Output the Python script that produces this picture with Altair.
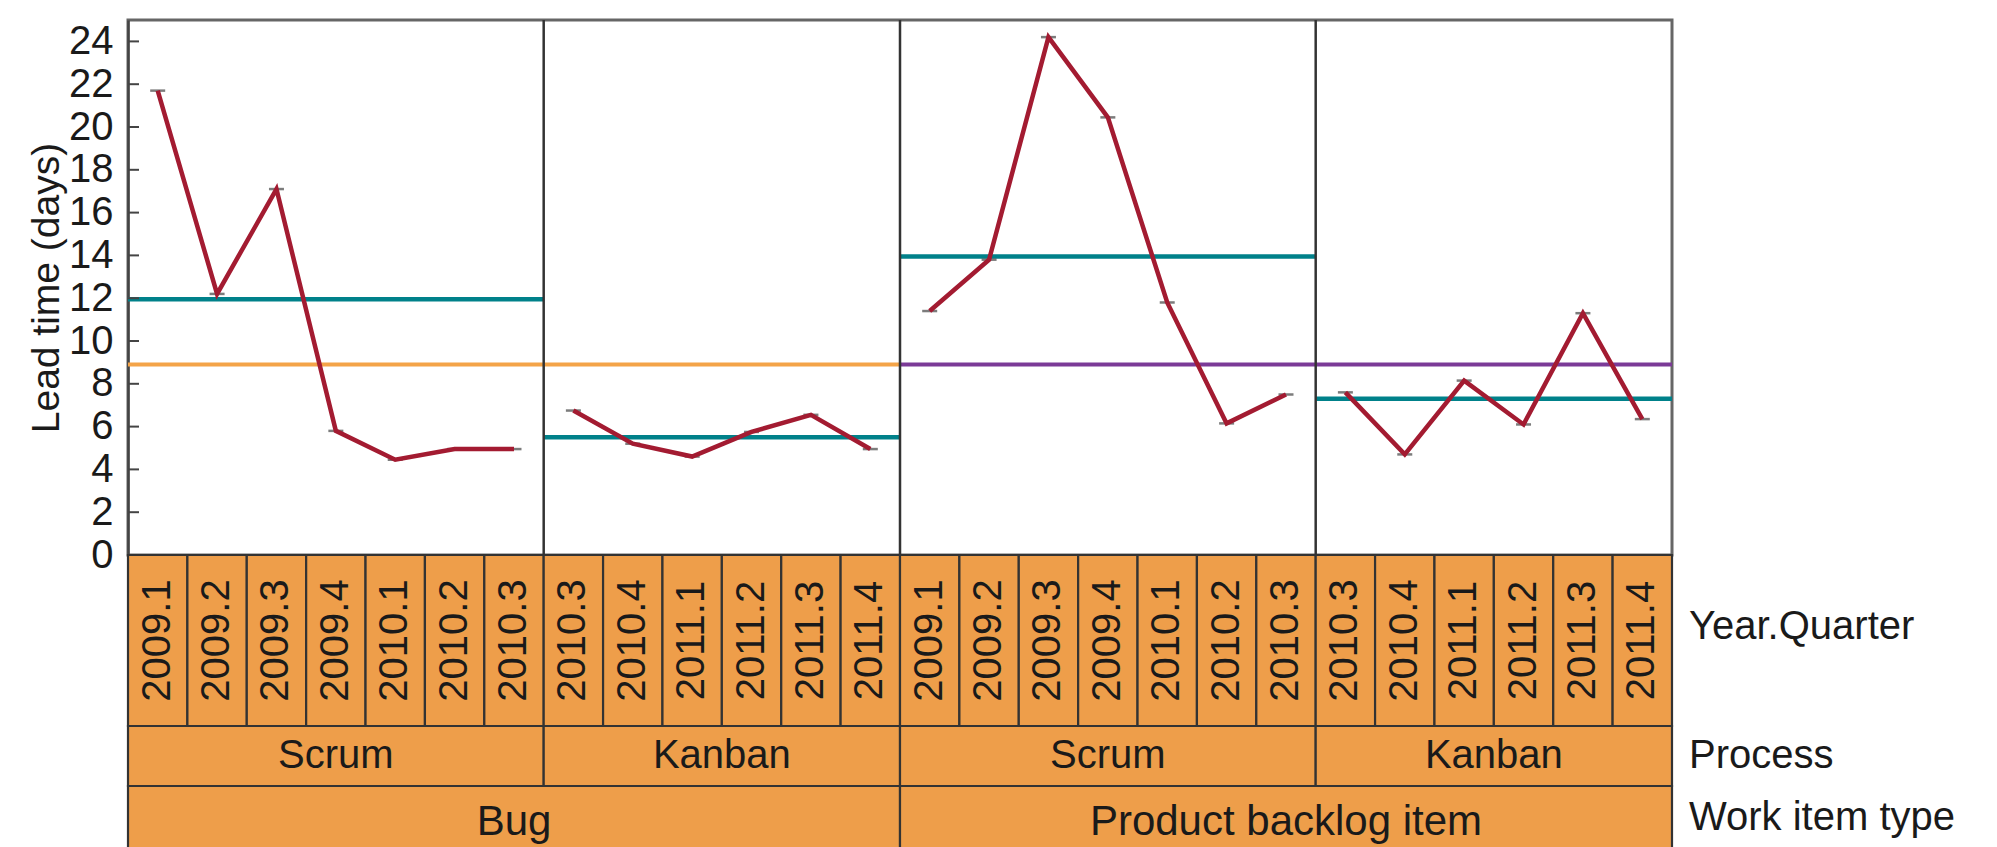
import altair as alt
import pandas as pd

# ---------------- data ----------------
work_item_types = ["Bug", "Bug", "Product backlog item", "Product backlog item"]
processes = ["Scrum", "Kanban", "Scrum", "Kanban"]
quarters_scrum = ["2009.1", "2009.2", "2009.3", "2009.4", "2010.1", "2010.2", "2010.3"]
quarters_kanban = ["2010.3", "2010.4", "2011.1", "2011.2", "2011.3", "2011.4"]
group_quarters = [quarters_scrum, quarters_kanban, quarters_scrum, quarters_kanban]

lead_bug_scrum = [21.7, 12.2, 17.1, 5.8, 4.45, 4.95, 4.95]
lead_bug_kanban = [6.75, 5.2, 4.6, 5.75, 6.55, 4.95]
lead_pbi_scrum = [11.4, 13.8, 24.2, 20.45, 11.8, 6.15, 7.5]
lead_pbi_kanban = [7.6, 4.7, 8.15, 6.1, 11.3, 6.35]
group_values = [lead_bug_scrum, lead_bug_kanban, lead_pbi_scrum, lead_pbi_kanban]

process_means = [11.95, 5.5, 13.95, 7.3]        # teal lines
work_item_means = {"Bug": 8.9, "Product backlog item": 8.9}
work_item_colors = {"Bug": "#F4A448", "Product backlog item": "#7B3A97"}

y_ticks = list(range(0, 25, 2))

# ---------------- styles ----------------
FONT = "Liberation Sans, Arial, sans-serif"
RED = "#A31B31"
TEAL = "#00818A"
ORANGE_FILL = "#EE9E4A"
EDGE = "#333333"
W = 1544
H_MAIN = 535
H_Q = 171
H_P = 60
H_W = 72

# ---------------- tables built from the arrays ----------------
pts, qcells, pcells, means = [], [], [], []
offset = 0
for g, (wt, pr, qs, vs) in enumerate(zip(work_item_types, processes, group_quarters, group_values)):
    for i, (q, v) in enumerate(zip(qs, vs)):
        pts.append({"grp": g, "xc": offset + i + 0.5, "v": v})
        qcells.append({"x0": offset + i, "x1": offset + i + 1, "xc": offset + i + 0.5, "q": q})
    pcells.append({"x0": offset, "x1": offset + len(qs), "xc": offset + len(qs) / 2, "label": pr})
    means.append({"x0": offset, "x1": offset + len(qs), "v": process_means[g], "c": TEAL, "o": 2})
    offset += len(qs)
n_total = offset

wcells = []
for wt in dict.fromkeys(work_item_types):
    idx = [k for k, w in enumerate(work_item_types) if w == wt]
    x0 = pcells[idx[0]]["x0"]
    x1 = pcells[idx[-1]]["x1"]
    wcells.append({"x0": x0, "x1": x1, "xc": (x0 + x1) / 2, "label": wt})
    means.append({"x0": x0, "x1": x1, "v": work_item_means[wt], "c": work_item_colors[wt], "o": 1})

dividers = pd.DataFrame({"x": [c["x0"] for c in pcells[1:]]})
pts_df = pd.DataFrame(pts)
means_df = pd.DataFrame(means).sort_values("o")
ticks_df = pd.DataFrame({"t": y_ticks})

xs = alt.Scale(domain=[0, n_total], nice=False, zero=False)
ys = alt.Scale(domain=[0, 25], nice=False, zero=True)

# ---------------- main panel ----------------
overall = alt.Chart(means_df[means_df.o == 1]).mark_rule(strokeWidth=4).encode(
    x=alt.X("x0:Q", scale=xs, axis=None),
    x2="x1:Q",
    y=alt.Y("v:Q", scale=ys,
            axis=alt.Axis(values=y_ticks, title="Lead time (days)", grid=False,
                          ticks=False, tickSize=0, labelPadding=15,
                          labelFont=FONT, labelFontSize=40, labelColor="#1a1a1a",
                          labelOverlap=False, labelFlush=False, labelBound=False,
                          domainColor="#444", domainWidth=2.5,
                          titleFont=FONT, titleFontSize=39, titleFontWeight="normal",
                          titleColor="#1a1a1a", titlePadding=2)),
    color=alt.Color("c:N", scale=None),
)
proc = alt.Chart(means_df[means_df.o == 2]).mark_rule(strokeWidth=4.5).encode(
    x=alt.X("x0:Q", scale=xs), x2="x1:Q", y=alt.Y("v:Q", scale=ys),
    color=alt.Color("c:N", scale=None),
)
divs = alt.Chart(dividers).mark_rule(color=EDGE, strokeWidth=2.5).encode(
    x=alt.X("x:Q", scale=xs)
)
yticks = alt.Chart(ticks_df).mark_rule(color="#444", strokeWidth=2, x2Offset=11).encode(
    x=alt.datum(0), x2=alt.datum(0), y=alt.Y("t:Q", scale=ys)
)
markers = alt.Chart(pts_df).mark_tick(orient="horizontal", size=15, thickness=2.5, color="#444").encode(
    x=alt.X("xc:Q", scale=xs), y=alt.Y("v:Q", scale=ys)
)
line = alt.Chart(pts_df).mark_line(color=RED, strokeWidth=4.5).encode(
    x=alt.X("xc:Q", scale=xs), y=alt.Y("v:Q", scale=ys), detail="grp:N"
)
main = alt.layer(overall, proc, divs, yticks, markers, line).properties(
    width=W, height=H_MAIN, view=alt.ViewBackground(stroke="#666", strokeWidth=3)
)

# ---------------- category bands ----------------
bs = alt.Scale(domain=[0, 1], nice=False, zero=False)


def band(rows, height, text_field, side_label, side_y, angle=0, fsize=40):
    df = pd.DataFrame(rows)
    rect = alt.Chart(df).mark_rect(fill=ORANGE_FILL, stroke=EDGE, strokeWidth=2.2).encode(
        x=alt.X("x0:Q", scale=xs, axis=None), x2="x1:Q",
        y=alt.Y(datum=0, scale=bs, axis=None), y2=alt.datum(1),
    )
    txt = alt.Chart(df).mark_text(font=FONT, fontSize=fsize, angle=angle, color="#1a1a1a",
                                  align="center", baseline="middle").encode(
        x=alt.X("xc:Q", scale=xs), y=alt.Y(datum=0.5, scale=bs), text=f"{text_field}:N"
    )
    side = alt.Chart(pd.DataFrame({"s": [side_label]})).mark_text(
        font=FONT, fontSize=40, color="#1a1a1a", align="left", baseline="middle", dx=17
    ).encode(x=alt.datum(n_total), y=alt.Y(datum=side_y, scale=bs), text="s:N")
    return alt.layer(rect, txt, side).properties(
        width=W, height=height, view=alt.ViewBackground(stroke=None)
    )


qband = band(qcells, H_Q, "q", "Year.Quarter", 0.58, angle=270, fsize=40)
pband = band(pcells, H_P, "label", "Process", 0.5)
wband = band(wcells, H_W, "label", "Work item type", 0.55, fsize=42)

chart = alt.vconcat(main, qband, pband, wband, spacing=0, bounds="flush").properties(
    padding={"left": 18, "top": 9, "right": 0, "bottom": 0}
).configure_view(stroke=None)

chart.save("out.html", embed_options={"renderer": "svg", "actions": False})
